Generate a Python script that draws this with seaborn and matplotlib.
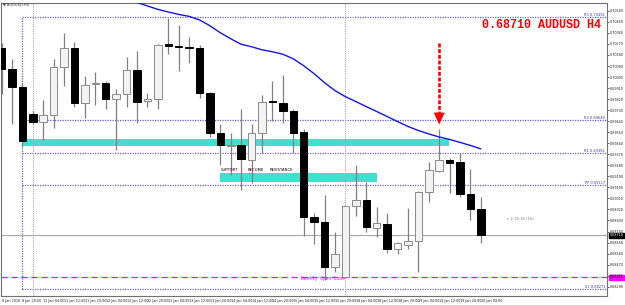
import numpy as np
import pandas as pd
import seaborn as sns
import matplotlib.pyplot as plt

# AUDUSD H4, 8 Jan 2016 12:00 .. 20 Jan 04:00
opens = [0.70239, 0.70068, 0.69922, 0.69702, 0.69637, 0.69694, 0.70084, 0.70239, 0.69792, 0.69942,
         0.69954, 0.69824, 0.69865, 0.70060, 0.69802, 0.69824, 0.70267, 0.70255, 0.70247, 0.70235,
         0.69873, 0.69542, 0.69438, 0.69442, 0.69320, 0.69540, 0.69800, 0.69792, 0.69727, 0.69548,
         0.68857, 0.68816, 0.68450, 0.68365, 0.68949, 0.68995, 0.68770, 0.68800, 0.68597, 0.68629,
         0.68662, 0.69060, 0.69231, 0.69320, 0.69304, 0.69044, 0.68922]
highs = [0.70280, 0.70149, 0.69954, 0.69719, 0.69816, 0.70149, 0.70361, 0.70288, 0.70011, 0.70044,
         0.69971, 0.69906, 0.70166, 0.70214, 0.69873, 0.70271, 0.70483, 0.70426, 0.70328, 0.70263,
         0.69875, 0.69621, 0.69540, 0.69743, 0.69621, 0.69857, 0.69971, 0.70019, 0.69743, 0.69580,
         0.68889, 0.69036, 0.68735, 0.68954, 0.69280, 0.69141, 0.68938, 0.68889, 0.68654, 0.68930,
         0.69068, 0.69304, 0.69580, 0.69336, 0.69377, 0.69247, 0.69019]
lows = [0.69865, 0.69621, 0.69426, 0.69621, 0.69483, 0.69588, 0.69930, 0.69759, 0.69670, 0.69775,
        0.69743, 0.69401, 0.69759, 0.69629, 0.69759, 0.69743, 0.70190, 0.70052, 0.70117, 0.69832,
        0.69507, 0.69280, 0.69198, 0.69076, 0.69133, 0.69377, 0.69645, 0.69629, 0.69377, 0.68702,
        0.68637, 0.68345, 0.68410, 0.68357, 0.68865, 0.68735, 0.68694, 0.68564, 0.68556, 0.68597,
        0.68410, 0.68979, 0.69228, 0.69052, 0.69019, 0.68832, 0.68645]
closes = [0.70068, 0.69922, 0.69475, 0.69637, 0.69694, 0.70084, 0.70239, 0.69792, 0.69938, 0.69954,
          0.69824, 0.69865, 0.70060, 0.69800, 0.69822, 0.70263, 0.70255, 0.70247, 0.70235, 0.69873,
          0.69542, 0.69442, 0.69442, 0.69328, 0.69540, 0.69800, 0.69797, 0.69727, 0.69540, 0.68857,
          0.68816, 0.68450, 0.68556, 0.68949, 0.68995, 0.68775, 0.68806, 0.68597, 0.68645, 0.68662,
          0.69060, 0.69239, 0.69320, 0.69298, 0.69044, 0.68922, 0.68710]

# moving average, visible from bar 12 on
ma_start = 12
ma_vals = [0.70637, 0.70609, 0.70580, 0.70552, 0.70531, 0.70511, 0.70495, 0.70466, 0.70418, 0.70361,
           0.70312, 0.70267, 0.70247, 0.70222, 0.70206, 0.70186, 0.70149, 0.70092, 0.70027, 0.69954,
           0.69889, 0.69840, 0.69800, 0.69759, 0.69719, 0.69678, 0.69637, 0.69597, 0.69564, 0.69536,
           0.69511, 0.69491, 0.69467, 0.69442, 0.69414]

time_labels = ["8 Jan 2016", "8 Jan 20:00", "11 Jan 04:00", "11 Jan 12:00", "11 Jan 20:00",
               "12 Jan 04:00", "12 Jan 12:00", "12 Jan 20:00", "13 Jan 04:00", "13 Jan 12:00",
               "13 Jan 20:00", "14 Jan 04:00", "14 Jan 12:00", "14 Jan 20:00", "15 Jan 04:00",
               "15 Jan 12:00", "15 Jan 20:00", "18 Jan 04:00", "18 Jan 12:00", "18 Jan 20:00",
               "19 Jan 04:00", "19 Jan 12:00", "19 Jan 20:00", "20 Jan 04:00"]

price_ticks = [0.70540, 0.70450, 0.70360, 0.70270, 0.70180, 0.70090, 0.70000, 0.69910, 0.69820,
               0.69730, 0.69640, 0.69550, 0.69460, 0.69370, 0.69280, 0.69190, 0.69100, 0.69010,
               0.68920, 0.68830, 0.68740, 0.68650, 0.68560, 0.68470, 0.68380, 0.68290]

pivot_names = ["R3", "R2", "R1", "PP", "S1"]
pivot_levels = [0.70491, 0.69649, 0.69381, 0.69117, 0.68271]
pivot_from = 1.96

zone_lows = [0.69438, 0.69144]
zone_highs = [0.69495, 0.69214]
zone_from = [1.96, 20.97]
zone_to = [42.94, 36.03]

separators = [3, 33]
last_price = 0.68710
weekly_open = 0.68365
arrow_bar = 42
arrow_top = 0.70280
arrow_base = 0.69710
arrow_tip = 0.69613

sns.set_style("white")
plt.rcParams['font.family'] = ['DejaVu Sans']

fig = plt.figure(figsize=(6.25, 3.05), dpi=100)
ax = fig.add_axes([1 / 625, 9 / 305, 606 / 625, 293 / 305])
xmin, xmax = -0.05, 58.1
ymin, ymax = 0.68214, 0.70604

df = pd.DataFrame({'o': opens, 'h': highs, 'l': lows, 'c': closes})
df['i'] = np.arange(len(df))
up = df['c'] >= df['o']
body = (df['c'] - df['o']).abs().clip(lower=0.00005)
bottom = df[['o', 'c']].min(axis=1)

# zones
for lo, hi, a, b in zip(zone_lows, zone_highs, zone_from, zone_to):
    ax.fill_between([a, b], lo, hi, color='#40e0d0', lw=0, zorder=1)

# pivots
pcol = '#6767c8'
for name, lvl in zip(pivot_names, pivot_levels):
    ax.hlines(lvl, pivot_from, xmax, colors=pcol, linestyles=(0, (1, 1)), lw=0.9, zorder=1)
    ax.text(0.997, lvl + 0.00002, f"{name} {lvl:.5f}", transform=ax.get_yaxis_transform(),
            ha='right', va='bottom', fontsize=2.6, color='#3a3aa0')
ax.vlines(pivot_from, pivot_levels[-1], pivot_levels[0], colors=pcol, linestyles=(0, (1, 1)), lw=0.9, zorder=1)

# period separators
for s in separators:
    ax.axvline(s, color='#a8a8a8', ls=(0, (1, 1)), lw=0.8, zorder=1)

ax.axhline(last_price, color='#a8a8a8', lw=0.8, zorder=1)
ax.axhline(weekly_open, color='#ff00ff', ls=(0, (5, 3)), lw=0.9, zorder=1)

# candles
ax.vlines(df['i'], df['l'], df['h'], colors='#808080', lw=0.9, zorder=2)
ax.bar(df['i'][up], body[up], bottom=bottom[up], width=0.72, color='#f3f3f3',
       edgecolor='#8a8a8a', lw=0.7, zorder=3)
ax.bar(df['i'][~up], body[~up], bottom=bottom[~up], width=0.72, color='black',
       edgecolor='black', lw=0.7, zorder=3)

ma_x = np.arange(ma_start, ma_start + len(ma_vals))
sns.lineplot(x=ma_x, y=ma_vals, ax=ax, color='#1414e6', lw=1.0, zorder=4)

# red arrow
ax.plot([arrow_bar, arrow_bar], [arrow_top, arrow_base], color='red', lw=1.9,
        dashes=(1.5, 0.65), solid_capstyle='butt', zorder=6)
ax.fill([arrow_bar - 0.53, arrow_bar + 0.53, arrow_bar],
        [arrow_base, arrow_base, arrow_tip], color='red', lw=0, zorder=6)

# texts
for word, xi in zip(["SUPPORT", "BECOME", "RESISTANCE"], [21.03, 23.62, 25.76]):
    ax.text(xi, 0.69239, word, fontsize=2.7, color='black', va='center', ha='left', zorder=7)
ax.text(32.96, weekly_open - 0.00008, "Weekly Open Line", fontsize=3.3, color='#ff00ff',
        ha='right', va='center', family='Liberation Mono', zorder=7)
ax.text(48.4, 0.68844, "< 2:18:18 (1h)", fontsize=2.7, color='#808080', va='center', zorder=7)

fig.text(482 / 625, 1 - 25 / 305, f"{last_price:.5f} AUDUSD H4", color='red', fontsize=8.5,
         family='Liberation Mono', weight='bold', ha='left', va='center')
fig.text(3 / 625, 1 - 5 / 305, "\u25bc AUDUSD,H4", fontsize=2.6, color='#333333', ha='left', va='center')

# price boxes on the axis
ax.text(1.004, last_price, f"{last_price:.5f}", transform=ax.get_yaxis_transform(), fontsize=2.4,
        color='white', va='center', ha='left',
        bbox=dict(boxstyle='square,pad=0.2', fc='black', ec='black'))
ax.text(1.004, weekly_open, f"{weekly_open:.5f}", transform=ax.get_yaxis_transform(), fontsize=2.4,
        color='black', va='center', ha='left',
        bbox=dict(boxstyle='square,pad=0.2', fc='#ff00ff', ec='#ff00ff'))

ax.set_xlim(xmin, xmax)
ax.set_ylim(ymin, ymax)
ax.yaxis.tick_right()
ax.set_yticks(price_ticks)
ax.set_yticklabels([f"{p:.5f}" for p in price_ticks])
ax.set_xticks(np.arange(0, 2 * len(time_labels), 2))
ax.set_xticklabels(time_labels, ha='left')
ax.tick_params(axis='both', labelsize=2.4, length=1.5, width=0.5, pad=0.8, colors='#222222')
ax.set_xlabel('')
ax.set_ylabel('')
for sp in ax.spines.values():
    sp.set_color('#707070')
    sp.set_linewidth(0.8)

fig.savefig('out.png', dpi=100, facecolor='white')
